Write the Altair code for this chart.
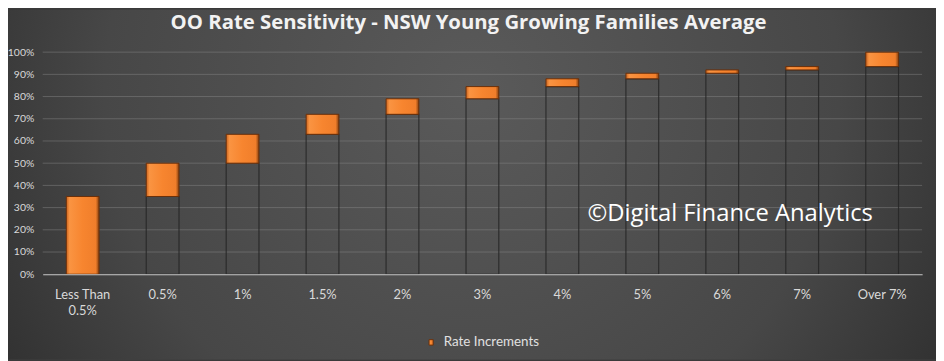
import altair as alt
import pandas as pd

# ---- data ----
categories = ["Less Than 0.5%", "0.5%", "1%", "1.5%", "2%", "3%", "4%", "5%", "6%", "7%", "Over 7%"]
increments = [0.35, 0.15, 0.13, 0.09, 0.07, 0.055, 0.035, 0.025, 0.015, 0.015, 0.065]
y_ticks = [0.0, 0.1, 0.2, 0.3, 0.4, 0.5, 0.6, 0.7, 0.8, 0.9, 1.0]
series_name = "Rate Increments"
title_text = "OO Rate Sensitivity - NSW Young Growing Families Average"
watermark_text = "©Digital Finance Analytics"
watermark_cat = ["6%"]
watermark_val = [0.27]

ends = []
total = 0.0
for v in increments:
    total += v
    ends.append(round(total, 4))
starts = [round(e - v, 4) for e, v in zip(ends, increments)]

df = pd.DataFrame({"cat": categories, "start": starts, "end": ends,
                   "series": [series_name] * len(categories)})
grid_df = pd.DataFrame({"v": y_ticks[1:]})

W, H = 887, 224
PAD = {"left": 35, "top": 43, "right": 14, "bottom": 86}

label_color = "#d9d9d9"
label_expr = "datum.label == 'Less Than 0.5%' ? ['Less Than', '0.5%'] : datum.label"

x_scale = alt.Scale(paddingInner=0.59, paddingOuter=0.295)
x_axis = alt.Axis(title=None, labelAngle=0, labelExpr=label_expr, labelFont="Lato",
                  labelFontSize=13, labelColor=label_color, labelPadding=14,
                  labelLineHeight=17, domainColor="#c8c8c8", domainWidth=1.2,
                  ticks=False, grid=False, zindex=1)
y_scale = alt.Scale(domain=[0, 1], nice=False)
y_axis = alt.Axis(title=None, values=y_ticks, format=".0%", labelFont="Lato",
                  labelFontSize=10.5, labelColor=label_color, labelPadding=9,
                  labelOverlap=False, domain=False, ticks=False, grid=False, zindex=1)

def X(field):
    return alt.X(field, sort=categories, scale=x_scale, axis=x_axis)

def Y(field):
    return alt.Y(field, scale=y_scale, axis=y_axis)

bg = alt.Chart(pd.DataFrame({"k": [0]})).mark_rect(
    fill=alt.Gradient(
        gradient="radial",
        stops=[alt.GradientStop(offset=0, color="#5a5a5a"),
               alt.GradientStop(offset=0.55, color="#474747"),
               alt.GradientStop(offset=1, color="#222222")],
        x1=0.5, y1=0.4, r1=0, x2=0.5, y2=0.4, r2=0.72,
    )
).encode(x=alt.value(-PAD["left"]), x2=alt.value(W + PAD["right"]),
         y=alt.value(-PAD["top"]), y2=alt.value(H + PAD["bottom"]))

grid = alt.Chart(grid_df).mark_rule(color="#8c8c8c", opacity=0.45, strokeWidth=1).encode(
    y=Y("v:Q")
)

base = alt.Chart(df).mark_bar(fillOpacity=0, stroke="#262626", strokeOpacity=0.85,
                              strokeWidth=1.2).encode(
    x=X("cat:N"),
    y=Y("start:Q"),
)

bar_fill = alt.Gradient(
    gradient="linear",
    stops=[alt.GradientStop(offset=0, color="#c9641f"),
           alt.GradientStop(offset=0.1, color="#fa9442"),
           alt.GradientStop(offset=0.5, color="#f7852f"),
           alt.GradientStop(offset=0.9, color="#f07e2b"),
           alt.GradientStop(offset=1, color="#84400f")],
    x1=0, x2=1, y1=0, y2=0,
)

inc = alt.Chart(df).mark_bar(fill=bar_fill, strokeWidth=1).encode(
    x=X("cat:N"),
    y=Y("end:Q"),
    y2="start:Q",
    stroke=alt.Stroke(
        "series:N",
        scale=alt.Scale(domain=[series_name], range=["#6a300a"]),
        legend=alt.Legend(title=None, orient="none", legendX=385, legendY=286,
                          symbolType="M-0.75,-1H0.75V1H-0.75Z", symbolSize=30,
                          symbolFillColor="#f0802f", symbolStrokeWidth=1,
                          labelFont="Lato", labelFontSize=13.5, labelColor="#e0e0e0",
                          labelOffset=6, zindex=1),
    ),
)

wm = alt.Chart(pd.DataFrame({"cat": watermark_cat, "v": watermark_val,
                             "t": [watermark_text]})).mark_text(
    font="Open Sans", fontSize=24, color="#ffffff", align="center", baseline="middle", dx=8
).encode(x=X("cat:N"), y=Y("v:Q"), text="t:N")

chart = alt.layer(bg, grid, base, inc, wm).properties(
    width=W, height=H,
    title=alt.TitleParams(title_text, font="Open Sans", fontSize=20.5, fontWeight="bold",
                          color="#f2f2f2", anchor="middle", offset=-24, dx=-14, zindex=1),
    autosize=alt.AutoSizeParams(type="none"),
    padding=PAD,
).configure(background="#3a3a3a").configure_view(stroke=None)

chart.save("out.html", embed_options={"renderer": "svg", "actions": False})
